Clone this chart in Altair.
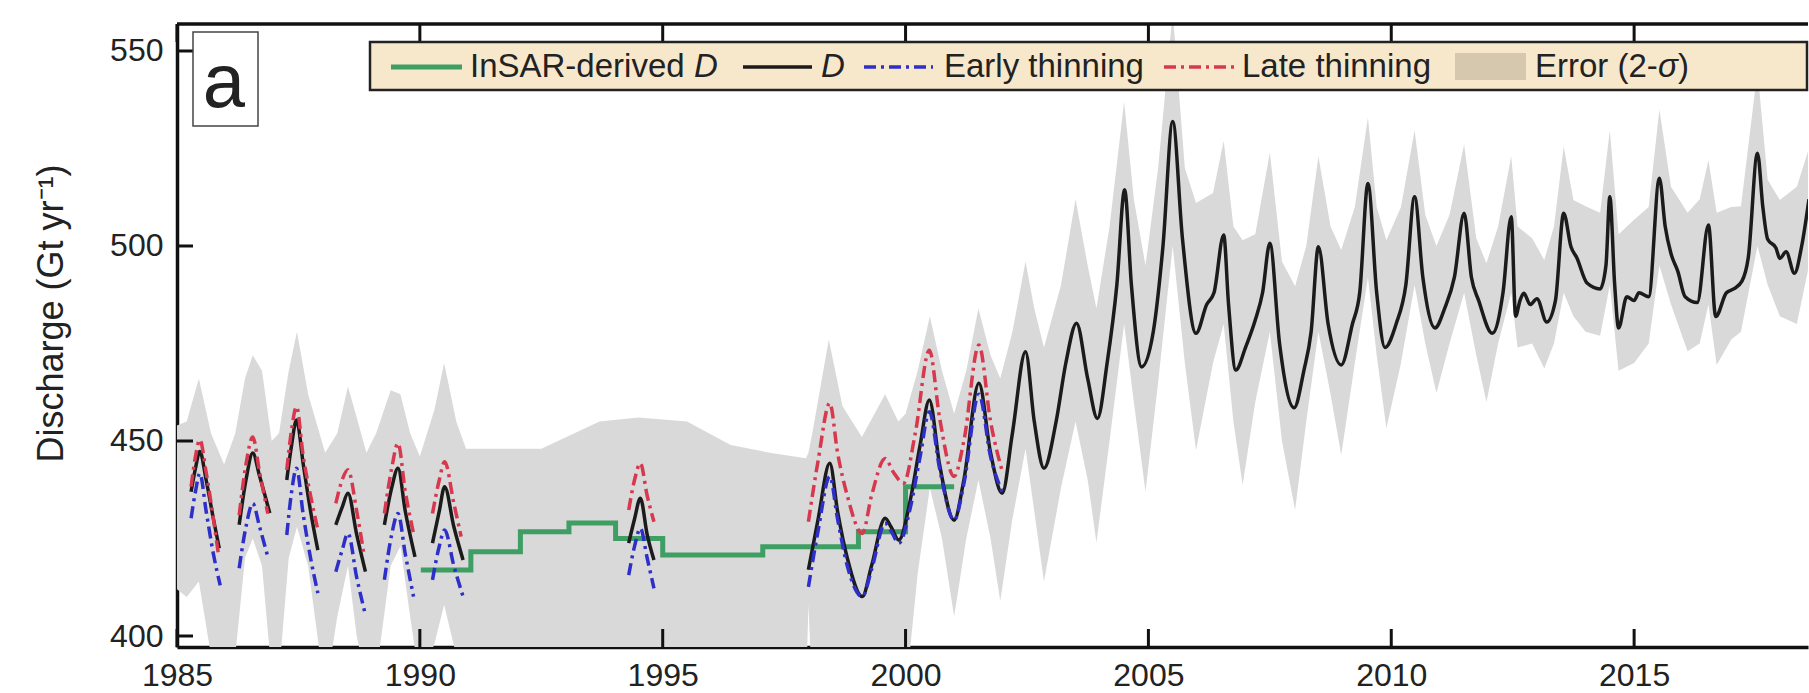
import altair as alt
import pandas as pd

FONT = "Liberation Sans"
W, H = 1631, 623

YEAR_TICKS = [1985, 1990, 1995, 2000, 2005, 2010, 2015]
VALUE_TICKS = [400, 450, 500, 550]

# InSAR-derived D (stepped)
INSAR_YEARS = [1990.02, 1991.05, 1992.07, 1993.07, 1994.03, 1995.0, 1997.06, 1999.03, 2000.0, 2001.0]
INSAR_VALUES = [416.9, 421.6, 426.7, 429.0, 425.0, 420.8, 422.9, 426.7, 438.3, 438.3]

# D: seasonal segments (early years) then continuous record
D_YEARS = [
    [1985.29, 1985.38, 1985.47, 1985.6, 1985.75, 1985.87],
    [1986.28, 1986.42, 1986.56, 1986.7, 1986.91],
    [1987.26, 1987.36, 1987.46, 1987.6, 1987.75, 1987.9],
    [1988.27, 1988.4, 1988.52, 1988.7, 1988.88],
    [1989.27, 1989.42, 1989.55, 1989.7, 1989.9],
    [1990.26, 1990.4, 1990.51, 1990.7, 1990.89],
    [1994.3, 1994.42, 1994.54, 1994.68, 1994.82],
    [1998.0, 1998.2, 1998.44, 1998.6, 1998.8, 1999.11, 1999.3, 1999.58, 1999.7, 1999.86,
     2000.1, 2000.3, 2000.49, 2000.7, 2001.0, 2001.2, 2001.51, 2001.75, 2001.99, 2002.2,
     2002.47, 2002.65, 2002.85, 2003.1, 2003.3, 2003.52, 2003.75, 2003.95, 2004.15, 2004.35,
     2004.51, 2004.65, 2004.86, 2005.1, 2005.3, 2005.5, 2005.7, 2005.98, 2006.2, 2006.35,
     2006.55, 2006.65, 2006.8, 2007.0, 2007.2, 2007.35, 2007.5, 2007.7, 2008.0, 2008.2,
     2008.35, 2008.5, 2008.7, 2008.97, 2009.2, 2009.35, 2009.52, 2009.7, 2009.87, 2010.1,
     2010.3, 2010.48, 2010.65, 2010.9, 2011.1, 2011.3, 2011.5, 2011.65, 2011.8, 2012.08,
     2012.3, 2012.47, 2012.56, 2012.65, 2012.73, 2012.86, 2013.0, 2013.2, 2013.38, 2013.55,
     2013.7, 2013.82, 2014.03, 2014.3, 2014.42, 2014.5, 2014.6, 2014.68, 2014.85, 2015.0,
     2015.1, 2015.3, 2015.52, 2015.64, 2015.76, 2015.9, 2016.05, 2016.3, 2016.53, 2016.68,
     2016.9, 2017.05, 2017.22, 2017.35, 2017.54, 2017.65, 2017.75, 2017.92, 2018.0, 2018.13,
     2018.3, 2018.45, 2018.6],
]
D_VALUES = [
    [437, 443, 447.3, 440, 430, 422.5],
    [428.5, 440, 446.9, 441, 431.5],
    [440, 449, 455.4, 444, 432, 422],
    [428.5, 433, 436.6, 426, 416.5],
    [428.5, 438, 443, 432, 420.3],
    [423.8, 432, 438.3, 428, 419.5],
    [423.8, 430, 435.3, 426, 419.5],
    [417, 430, 444.3, 432, 420, 410.1, 418, 430.2, 428, 424.6,
     435, 449, 460.5, 444, 429.7, 440, 464.8, 447, 436.6, 452,
     472.9, 455, 443, 455, 470, 480.2, 466, 455.8, 470, 490,
     514.4, 490, 469, 478, 500, 531.9, 502, 477.6, 485, 488,
     502.8, 485, 468.2, 474, 481, 488, 500.7, 475, 458.5, 468,
     478, 499.8, 480, 469.5, 480, 488, 516, 488, 474, 480,
     490, 512.6, 492, 479, 484, 492, 508.4, 492, 486, 477.6,
     488, 507.5, 482, 486, 487.9, 485, 486.5, 480.5, 486, 508.4,
     499.8, 497, 490.5, 489, 495, 512.6, 490, 479, 487, 486,
     488, 487, 517.4, 505, 498, 493.5, 487, 485.5, 505.4, 481.9,
     488, 489, 491, 497, 523.8, 510, 501.7, 499.5, 496.8, 498.5,
     493, 500, 512],
]

EARLY_YEARS = [
    [1985.29, 1985.38, 1985.47, 1985.6, 1985.75, 1985.89],
    [1986.28, 1986.42, 1986.56, 1986.7, 1986.87],
    [1987.26, 1987.36, 1987.46, 1987.6, 1987.75, 1987.9],
    [1988.27, 1988.4, 1988.52, 1988.7, 1988.88],
    [1989.27, 1989.42, 1989.55, 1989.7, 1989.87],
    [1990.26, 1990.4, 1990.51, 1990.7, 1990.89],
    [1994.3, 1994.42, 1994.54, 1994.68, 1994.82],
    [1998.0, 1998.2, 1998.44, 1998.6, 1998.8, 1999.11, 1999.3, 1999.58, 1999.7, 1999.86,
     2000.1, 2000.3, 2000.49, 2000.7, 2001.0, 2001.2, 2001.51, 2001.75, 2002.0],
]
EARLY_VALUES = [
    [430.2, 437, 441.7, 432, 421, 413],
    [417.4, 428, 434, 428, 420.3],
    [425.9, 437, 443, 431, 420, 411],
    [416.5, 422, 426.3, 415, 405.4],
    [414.4, 426, 431.4, 421, 410.1],
    [414.4, 423, 427.2, 418, 410.1],
    [415.6, 423, 427.6, 420, 412.2],
    [412.6, 427, 440.9, 430, 418, 410.1, 417, 428.9, 427, 423.8,
     433, 446, 457.5, 443, 429.7, 439, 462, 446, 436.6],
]

LATE_YEARS = [
    [1985.29, 1985.38, 1985.47, 1985.6, 1985.75, 1985.85],
    [1986.28, 1986.42, 1986.56, 1986.7, 1986.87],
    [1987.26, 1987.36, 1987.46, 1987.6, 1987.75, 1987.9],
    [1988.27, 1988.4, 1988.52, 1988.7, 1988.84],
    [1989.27, 1989.42, 1989.55, 1989.7, 1989.87],
    [1990.26, 1990.4, 1990.51, 1990.7, 1990.85],
    [1994.3, 1994.42, 1994.54, 1994.68, 1994.82],
    [1998.0, 1998.2, 1998.44, 1998.6, 1998.8, 1999.11, 1999.3, 1999.58, 1999.75, 1999.96,
     2000.2, 2000.49, 2000.7, 2001.0, 2001.2, 2001.51, 2001.75, 2002.0],
]
LATE_VALUES = [
    [438.3, 446, 450.3, 442, 430, 421.2],
    [431, 444, 451, 442, 431.4],
    [442.6, 453, 458.8, 446, 436, 427.2],
    [434, 440, 442.6, 432, 421.6],
    [431.4, 443, 449.4, 437, 426.3],
    [431.4, 440, 444.7, 434, 425.5],
    [432.3, 440, 444.3, 436, 429.3],
    [429.3, 445, 459.7, 447, 436, 426.3, 436, 445.5, 442, 439.2,
     452, 473.3, 456, 440.9, 450, 474.6, 455, 441.8],
]

# Error band (2-sigma)
BAND_YEARS = [
    1985.0, 1985.2, 1985.45, 1985.7, 1985.97, 1986.2, 1986.4, 1986.56, 1986.75, 1986.95,
    1987.1, 1987.3, 1987.47, 1987.7, 1988.05, 1988.3, 1988.52, 1988.7, 1988.9, 1989.1,
    1989.4, 1989.6, 1989.8, 1990.0, 1990.3, 1990.5, 1990.75, 1990.95, 1991.5, 1992.5,
    1993.7, 1994.5, 1995.5, 1996.4, 1997.2, 1997.95, 1998.0, 1998.08, 1998.42, 1998.7,
    1999.1, 1999.58, 1999.85, 2000.0, 2000.25, 2000.5, 2000.75, 2001.0, 2001.25, 2001.5,
    2001.75, 2001.95, 2002.2, 2002.47, 2002.65, 2002.85, 2003.2, 2003.5, 2003.75, 2003.93,
    2004.2, 2004.5, 2004.7, 2004.94, 2005.2, 2005.5, 2005.75, 2005.98, 2006.33, 2006.55,
    2006.75, 2006.94, 2007.2, 2007.5, 2007.75, 2008.02, 2008.25, 2008.5, 2008.75, 2008.97,
    2009.25, 2009.52, 2009.7, 2009.9, 2010.2, 2010.48, 2010.7, 2010.93, 2011.2, 2011.5,
    2011.75, 2011.96, 2012.2, 2012.47, 2012.6, 2012.9, 2013.15, 2013.35, 2013.55, 2013.75,
    2014.0, 2014.3, 2014.5, 2014.68, 2015.0, 2015.3, 2015.52, 2015.76, 2016.1, 2016.35,
    2016.53, 2016.7, 2017.0, 2017.2, 2017.54, 2017.75, 2018.0, 2018.35, 2018.6,
]
BAND_LOW = [
    412, 410, 414, 395, 385, 395, 420, 425, 418, 390,
    390, 420, 428, 418, 385, 405, 418, 400, 388, 390,
    418, 423, 405, 388, 398, 408, 395, 385, 385, 385,
    385, 385, 385, 385, 385, 385, 408, 385, 385, 385,
    385, 385, 385, 385, 416, 438, 425, 405, 425, 440,
    425, 409, 430, 448, 432, 414, 438, 455, 440, 424,
    450, 480, 460, 437, 465, 500, 470, 447.6, 470, 480,
    455, 438.7, 460, 478, 450, 432.3, 455, 478, 462, 446.4,
    470, 492, 472, 453.3, 470, 490, 475, 462.3, 475, 488,
    472, 460, 475, 488, 474, 475, 468.6, 475, 488, 482,
    478, 477, 490, 468, 470, 475, 495, 485, 473, 475,
    485, 469.5, 476, 478, 500, 490, 482, 480, 495,
]
BAND_HIGH = [
    454, 455, 466, 452, 444, 452, 466, 472, 468, 450,
    452, 468, 478, 462, 447, 452, 464, 456, 447, 452,
    463, 462, 452, 446, 458, 470, 455, 448, 448, 448,
    455, 456, 455, 449, 447, 445.6, 447, 452, 476, 459,
    451, 462, 455, 457, 468, 482, 468, 457, 468, 484,
    472, 466, 478, 496, 484, 474, 490, 512, 495, 484,
    505, 537, 512, 495, 520, 560, 520, 511, 513.6, 527,
    505, 501.5, 503, 524, 496, 489.7, 500, 523, 505, 499,
    510, 533, 510, 501.5, 510, 529.7, 508, 500, 508, 526,
    502, 495.6, 505, 523, 505, 502, 496.4, 505, 525.5, 511.8,
    510.2, 508.5, 529.7, 503, 506.7, 510, 535, 515.2, 508.5, 512,
    522, 508.5, 510, 510.2, 545, 517, 511.8, 515.2, 525,
]


def seg_frame(years_list, values_list):
    rows = []
    for i, (yrs, vals) in enumerate(zip(years_list, values_list)):
        for x, v in zip(yrs, vals):
            rows.append({"year": x, "value": v, "seg": i})
    return pd.DataFrame(rows)


band_df = pd.DataFrame({"year": BAND_YEARS, "lo": BAND_LOW, "hi": BAND_HIGH})
insar_df = pd.DataFrame({"year": INSAR_YEARS, "value": INSAR_VALUES})
d_df = seg_frame(D_YEARS, D_VALUES)
early_df = seg_frame(EARLY_YEARS, EARLY_VALUES)
late_df = seg_frame(LATE_YEARS, LATE_VALUES)
ONE = pd.DataFrame({"k": [0]})

xs = alt.Scale(domain=[1985, 2018.58], nice=False, zero=False)
ys = alt.Scale(domain=[397.18, 556.92], nice=False, zero=False)

x_axis = alt.Axis(values=YEAR_TICKS, format="d", title=None, grid=False, ticks=False, tickSize=0,
                  labelFontSize=32, labelFont=FONT, labelColor="#222222", labelPadding=38,
                  labelBaseline="alphabetic", labelFlush=False, labelOverlap=False,
                  domainColor="#111111", domainWidth=3.5)
y_axis = alt.Axis(values=VALUE_TICKS, title="Discharge (Gt yr\u207b\u00b9)", grid=False, ticks=False,
                  tickSize=0, labelFontSize=32, labelFont=FONT, labelColor="#222222", labelPadding=14,
                  domainColor="#111111", domainWidth=3.5, titleFontSize=36, titleFont=FONT,
                  titleFontWeight="normal", titleColor="#222222", titleX=-115, titleY=289,
                  titleAlign="center", titleBaseline="alphabetic", titleAngle=270)

X = alt.X("year:Q", scale=xs, axis=x_axis)
Y = alt.Y("value:Q", scale=ys, axis=y_axis)

DASH = [12, 5, 3, 5]

band = alt.Chart(band_df).mark_area(color="#d9d9d9", clip=True).encode(
    x=X, y=alt.Y("lo:Q", scale=ys, axis=y_axis), y2="hi:Q")
green = alt.Chart(insar_df).mark_line(color="#3e9e63", strokeWidth=5, interpolate="step-after",
                                      clip=True).encode(x=X, y=Y)
dline = alt.Chart(d_df).mark_line(color="#1b1b1b", strokeWidth=3.5, interpolate="monotone",
                                  clip=True).encode(x=X, y=Y, detail="seg:N")
late = alt.Chart(late_df).mark_line(color="#d7384e", strokeWidth=3.5, strokeDash=DASH,
                                    interpolate="monotone", clip=True).encode(x=X, y=Y, detail="seg:N")
early = alt.Chart(early_df).mark_line(color="#2d2fc8", strokeWidth=3.5, strokeDash=DASH,
                                      interpolate="monotone", clip=True).encode(x=X, y=Y, detail="seg:N")

ytick = alt.Chart(pd.DataFrame({"value": VALUE_TICKS})).mark_rule(color="#111111", strokeWidth=3).encode(
    y=Y, x=alt.value(0), x2=alt.value(16))
xtick_b = alt.Chart(pd.DataFrame({"year": YEAR_TICKS})).mark_rule(color="#111111", strokeWidth=3).encode(
    x=X, y=alt.value(H), y2=alt.value(H - 18))
xtick_t = alt.Chart(pd.DataFrame({"year": YEAR_TICKS})).mark_rule(color="#111111", strokeWidth=3).encode(
    x=X, y=alt.value(0), y2=alt.value(18))
top_border = alt.Chart(ONE).mark_rule(color="#111111", strokeWidth=3.5).encode(
    x=alt.value(0), x2=alt.value(W), y=alt.value(0))


def rect(x1, x2, y1, y2, fill, stroke=None, sw=0):
    kw = {"fill": fill, "strokeWidth": sw}
    if stroke:
        kw["stroke"] = stroke
    return alt.Chart(ONE).mark_rect(**kw).encode(
        x=alt.value(x1), x2=alt.value(x2), y=alt.value(y1), y2=alt.value(y2))


def seg(x1, x2, y, color, width, dash=None):
    kw = {"color": color, "strokeWidth": width}
    if dash:
        kw["strokeDash"] = dash
    return alt.Chart(ONE).mark_rule(**kw).encode(x=alt.value(x1), x2=alt.value(x2), y=alt.value(y))


def label(txt, x, y, size=33, italic=False, align="left"):
    return alt.Chart(ONE).mark_text(text=txt, font=FONT, fontSize=size,
                                    fontStyle="italic" if italic else "normal",
                                    align=align, baseline="alphabetic", color="#222222").encode(
        x=alt.value(x), y=alt.value(y))


LY = 43
LB = 53
deco = [
    rect(16, 81, 8, 102, "white", "#444444", 1.5),
    label("a", 47, 83, size=76, align="center"),
    rect(193, 1630, 18, 66, "#f7e8cc", "#222222", 2.5),
    seg(214, 285, LY, "#3e9e63", 5),
    label("InSAR-derived", 293, LB),
    label("D", 517, LB, italic=True),
    seg(566, 635, LY, "#1b1b1b", 3.5),
    label("D", 644, LB, italic=True),
    seg(687, 756, LY, "#2d2fc8", 3.5, DASH),
    label("Early thinning", 767, LB),
    seg(987, 1057, LY, "#d7384e", 3.5, DASH),
    label("Late thinning", 1065, LB),
    rect(1278, 1349, 29, 56, "#d5c8ae"),
    label("Error (2-", 1358, LB),
    label("\u03c3", 1481, LB, italic=True),
    label(")", 1501, LB),
]

chart = alt.layer(band, green, dline, late, early, ytick, xtick_b, xtick_t, top_border, *deco).properties(
    width=W, height=H,
    padding={"left": 177, "top": 24, "right": 1, "bottom": 46},
    autosize=alt.AutoSizeParams(type="none"),
).configure_view(strokeWidth=0)

chart.save("out.html", embed_options={"renderer": "svg", "actions": False})
